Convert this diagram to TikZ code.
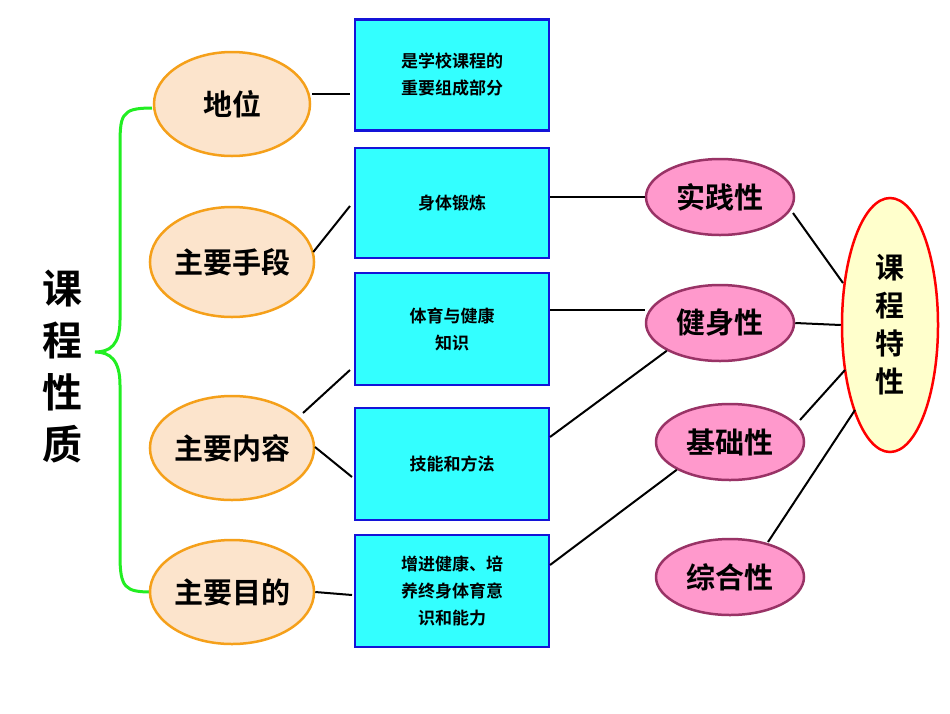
\documentclass[tikz,border=0pt]{standalone}
\usepackage{fontspec}
\setmainfont{Noto Sans CJK SC}[BoldFont={Noto Sans CJK SC Bold}]
\usetikzlibrary{shapes.geometric}
\definecolor{peach}{HTML}{FCE4CC}
\definecolor{orng}{HTML}{F5A01A}
\definecolor{cyanf}{HTML}{33FFFF}
\definecolor{blueb}{HTML}{1414D8}
\definecolor{pinkf}{HTML}{FF99CC}
\definecolor{pinkb}{HTML}{993366}
\definecolor{yel}{HTML}{FFFFCC}
\definecolor{grn}{HTML}{22EE22}
\begin{document}
\begin{tikzpicture}[x=1pt,y=-1pt,
 oell/.style={ellipse,draw=orng,fill=peach,line width=2.5pt,minimum width=156pt,minimum height=104pt,inner sep=0pt,font=\bfseries\fontsize{29}{32}\selectfont},
 cbox/.style={rectangle,draw=blueb,fill=cyanf,line width=2.5pt,minimum width=194pt,align=center,inner sep=0pt,font=\bfseries\fontsize{17}{27}\selectfont},
 pell/.style={ellipse,draw=pinkb,fill=pinkf,line width=2.5pt,minimum width=148pt,minimum height=76pt,inner sep=0pt,font=\bfseries\fontsize{29}{32}\selectfont},
 ln/.style={line width=2pt}]
\useasboundingbox[fill=white] (0,0) rectangle (950,713);
\node[font=\bfseries\fontsize{40}{52}\selectfont,align=center] (title) at (62,367) {课\\程\\性\\质};
\draw[grn,line width=3pt] (152,108) .. controls (120,108) and (120,115) .. (120,150) -- (120,320) .. controls (120,345) and (110,352) .. (95,352) coordinate (tip)
  .. controls (110,352) and (120,360) .. (120,385) -- (120,555) .. controls (120,588) and (125,592) .. (152,592);
\node[oell] (a1) at (232,104) {地位};
\node[oell,minimum height=110pt] (a2) at (232,262) {主要手段};
\node[oell] (a3) at (232,448) {主要内容};
\node[oell] (a4) at (232,592) {主要目的};
\node[cbox,minimum height=111pt] (b1) at (452,75) {是学校课程的\\重要组成部分};
\node[cbox,minimum height=110pt] (b2) at (452,203) {身体锻炼};
\node[cbox,minimum height=112pt] (b3) at (452,329) {体育与健康\\知识};
\node[cbox,minimum height=112pt] (b4) at (452,464) {技能和方法};
\node[cbox,minimum height=112pt] (b5) at (452,591) {增进健康、培\\养终身体育意\\识和能力};
\node[pell] (p1) at (720,197) {实践性};
\node[pell] (p2) at (720,323) {健身性};
\node[pell] (p3) at (730,442) {基础性};
\node[pell] (p4) at (730,577) {综合性};
\node[ellipse,draw=red,fill=yel,line width=2.5pt,minimum width=96pt,minimum height=254pt,inner sep=0pt,align=center,font=\bfseries\fontsize{29}{38}\selectfont] (y) at (890,325) {课\\程\\特\\性};
\coordinate (c1) at (350,94);
\coordinate (c2) at (350,206);
\coordinate (c3) at (350,370);
\coordinate (c4) at (352,477);
\coordinate (c5) at (352,595);
\draw[ln] (312,94) -- (c1);
\draw[ln] (a2.east) ++(-2,-10) -- (c2);
\draw[ln] (303,413) -- (c3);
\draw[ln] (315,447) -- (c4);
\draw[ln] (a4.east) -- (c5);
\draw[ln] (b2.east |- p1) -- (p1.west);
\draw[ln] (b3.east |- 0,310) -- (p1.west |- 0,310);
\draw[ln] (550,437) -- (p2.south west);
\draw[ln] (550,565) -- (p3.south west);
\draw[ln] (793,213) -- (843,283);
\draw[ln] (p2.east) -- (y.west);
\draw[ln] (800,420) -- (845,370);
\draw[ln] (768,542) -- (855,410);
\end{tikzpicture}
\end{document}
